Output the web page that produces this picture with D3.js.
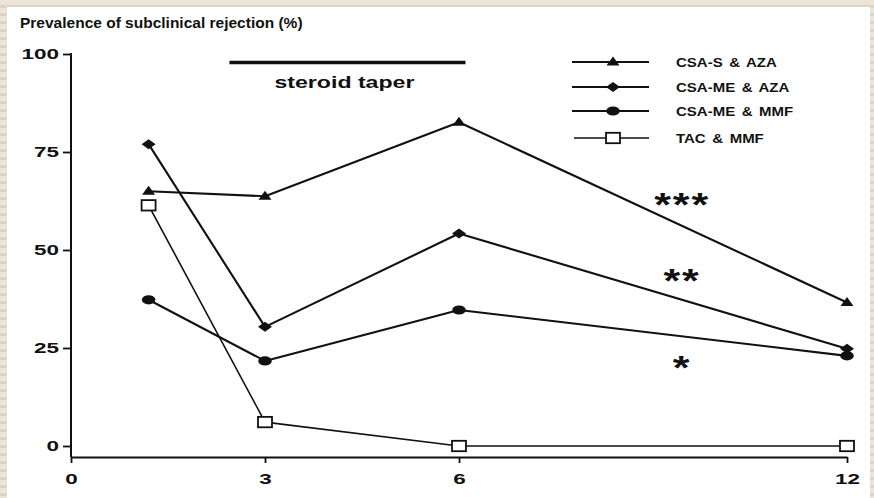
<!DOCTYPE html>
<html>
<head>
<meta charset="utf-8">
<script src="https://cdn.jsdelivr.net/npm/d3@7"></script>
<style>
  html, body { margin: 0; padding: 0; background: #e8e1d3; }
  svg { display: block; font-family: "Liberation Sans", Arial, Helvetica, sans-serif; font-weight: bold; }
</style>
</head>
<body>
<svg id="chart" width="874" height="498"></svg>
<script>
// ---- data ----
const months = [1.2, 3, 6, 12];
const seriesNames = ["CSA-S & AZA", "CSA-ME & AZA", "CSA-ME & MMF", "TAC & MMF"];
const csaSAza  = [65.0, 63.7, 82.6, 36.6];
const csaMeAza = [77.0, 30.4, 54.2, 24.8];
const csaMeMmf = [37.3, 21.7, 34.7, 23.0];
const tacMmf   = [61.4, 6.1, 0, 0];
const markerKinds = ["triangle", "diamond", "circle", "square"];

const xTicks = [0, 3, 6, 12];
const yTicks = [0, 25, 50, 75, 100];

const titleText = "Prevalence of subclinical rejection (%)";
const taperLabel = "steroid taper";
const taperMonths = [2.45, 6.1];
const taperLevel = 97.8;

const starLabels = ["***", "**", "*"];
const starMonths = [9.45, 9.45, 9.45];
const starValues = [63.8, 44.4, 22.2];

// ---- layout ----
const W = 874, H = 498;
const svg = d3.select("#chart");

// striped paper border
const defs = svg.append("defs");
const pat = defs.append("pattern").attr("id", "paper")
  .attr("width", 8).attr("height", 8).attr("patternUnits", "userSpaceOnUse");
pat.append("rect").attr("width", 8).attr("height", 8).attr("fill", "#ebe4d7");
pat.append("rect").attr("y", 5).attr("width", 8).attr("height", 3).attr("fill", "#ddd4c3");
svg.append("rect").attr("width", W).attr("height", H).attr("fill", "url(#paper)");
svg.append("rect").attr("x", 7).attr("y", 7).attr("width", 863).attr("height", H - 7).attr("fill", "#ffffff");

const x = d3.scaleLinear().domain([0, 12]).range([71, 847]);
const y = d3.scaleLinear().domain([0, 100]).range([446, 54]);
const xAxisY = 457;
const ink = "#111";

// stretch a text element horizontally around its anchor point
function stretch(sel, sx) {
  sel.each(function () {
    const t = d3.select(this);
    const tx = +t.attr("x") || 0, ty = +t.attr("y") || 0;
    t.attr("x", 0).attr("y", 0).attr("transform", `translate(${tx},${ty}) scale(${sx},1)`);
  });
}

// title
svg.append("text").attr("x", 20).attr("y", 28)
  .attr("font-size", 15.5).attr("fill", ink).text(titleText);

// y axis
const gy = svg.append("g").attr("transform", `translate(${x(0)},0)`)
  .call(d3.axisLeft(y).tickValues(yTicks).tickSize(8).tickPadding(4).tickSizeOuter(0));
gy.select(".domain").remove();
gy.selectAll(".tick line").attr("stroke", ink).attr("stroke-width", 1.8);
gy.selectAll(".tick text").attr("font-size", 15.5).attr("font-family", null).attr("fill", ink).call(stretch, 1.45);
svg.append("line").attr("x1", x(0)).attr("x2", x(0)).attr("y1", y(100) - 1).attr("y2", xAxisY)
  .attr("stroke", ink).attr("stroke-width", 2);

// x axis
const gx = svg.append("g").attr("transform", `translate(0,${xAxisY})`)
  .call(d3.axisBottom(x).tickValues(xTicks).tickFormat(d3.format("d")).tickSize(6).tickPadding(10).tickSizeOuter(0));
gx.select(".domain").attr("stroke", ink).attr("stroke-width", 2);
gx.selectAll(".tick line").attr("stroke", ink).attr("stroke-width", 1.8);
gx.selectAll(".tick text").attr("font-size", 15.5).attr("font-family", null).attr("fill", ink).call(stretch, 1.45);

// steroid taper bar
svg.append("line")
  .attr("x1", x(taperMonths[0])).attr("x2", x(taperMonths[1]))
  .attr("y1", y(taperLevel)).attr("y2", y(taperLevel))
  .attr("stroke", ink).attr("stroke-width", 3.5);
svg.append("text")
  .attr("x", (x(taperMonths[0]) + x(taperMonths[1])) / 2 - 3).attr("y", y(taperLevel) + 25)
  .attr("text-anchor", "middle").attr("font-size", 17).attr("fill", ink)
  .text(taperLabel).call(stretch, 1.36);

// markers
function drawMarker(g, kind) {
  if (kind === "triangle") {
    g.append("path").attr("d", "M0,-5.5L6.5,3.5L-6.5,3.5Z").attr("fill", ink);
  } else if (kind === "diamond") {
    g.append("path").attr("d", "M0,-5L7,0L0,5L-7,0Z").attr("fill", ink);
  } else if (kind === "circle") {
    g.append("ellipse").attr("rx", 6.8).attr("ry", 4.6).attr("fill", ink);
  } else {
    g.append("rect").attr("x", -7).attr("y", -5.2).attr("width", 14).attr("height", 10.4)
      .attr("fill", "#fff").attr("stroke", ink).attr("stroke-width", 1.8);
  }
}

const allSeries = [csaSAza, csaMeAza, csaMeMmf, tacMmf];
const line = d3.line().x((d, i) => x(months[i])).y(d => y(d));

allSeries.forEach((vals, si) => {
  svg.append("path").datum(vals).attr("d", line)
    .attr("fill", "none").attr("stroke", ink)
    .attr("stroke-width", si === 3 ? 1.6 : 2.1).attr("stroke-linejoin", "round");
});
allSeries.forEach((vals, si) => {
  vals.forEach((v, i) => {
    const g = svg.append("g").attr("transform", `translate(${x(months[i])},${y(v)})`);
    drawMarker(g, markerKinds[si]);
  });
});

// significance asterisks
starLabels.forEach((lab, i) => {
  svg.append("text")
    .attr("x", x(starMonths[i])).attr("y", y(starValues[i]) + 20)
    .attr("text-anchor", "middle").attr("font-size", 33).attr("fill", ink)
    .attr("letter-spacing", 1.5)
    .text(lab).call(stretch, 1.3);
});

// legend
const legRows = [62, 87, 111, 138];
seriesNames.forEach((name, i) => {
  const g = svg.append("g").attr("transform", `translate(0,${legRows[i]})`);
  g.append("line").attr("x1", i === 3 ? 574 : 572).attr("x2", 649).attr("y1", 0).attr("y2", 0)
    .attr("stroke", ink).attr("stroke-width", i === 3 ? 1.6 : 2);
  const m = g.append("g").attr("transform", "translate(613,0)");
  drawMarker(m, markerKinds[i]);
  g.append("text").attr("x", 676).attr("y", 4.6)
    .attr("font-size", 12.5).attr("fill", ink).attr("word-spacing", 2)
    .text(name).call(stretch, 1.2);
});
</script>
</body>
</html>
